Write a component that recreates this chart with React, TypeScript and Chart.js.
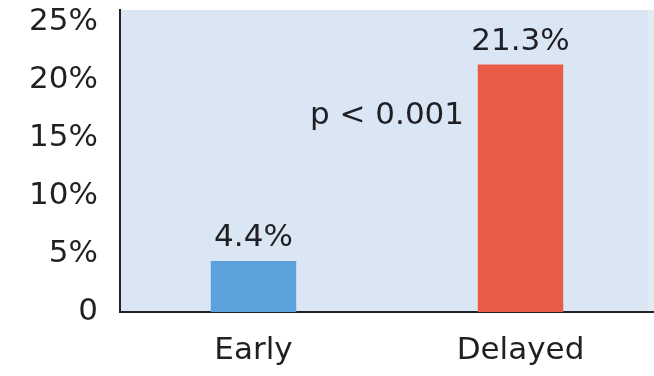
import React, { useEffect, useRef } from "react";
import { Chart, registerables } from "chart.js";

Chart.register(...registerables);

const categories = ["Early", "Delayed"];
const rates = [4.4, 21.3];
const barColors = ["#5ba2dc", "#ea5b45"];
const yTicks = [0, 5, 10, 15, 20, 25];
const pValueText = "p < 0.001";

const FONT = "'DejaVu Sans', sans-serif";
const TEXT = "#1f1f24";

const backdrop = {
  id: "backdrop",
  beforeDraw(chart: any) {
    const { ctx, chartArea } = chart;
    ctx.save();
    ctx.fillStyle = "#dae6f4";
    ctx.fillRect(chartArea.left, chartArea.top, chartArea.right - chartArea.left - 6, chartArea.bottom - chartArea.top);
    ctx.fillStyle = "#e4ebf3";
    ctx.fillRect(chartArea.right - 6, chartArea.top, 6, chartArea.bottom - chartArea.top);
    ctx.restore();
  },
};

const valueLabels = {
  id: "valueLabels",
  afterDatasetsDraw(chart: any) {
    const { ctx } = chart;
    const meta = chart.getDatasetMeta(0);
    ctx.save();
    ctx.font = `31px ${FONT}`;
    ctx.fillStyle = TEXT;
    ctx.textAlign = "center";
    ctx.textBaseline = "alphabetic";
    meta.data.forEach((bar: any, i: number) => {
      ctx.fillText(`${rates[i]}%`, bar.x, bar.y - 15);
    });
    // significance note between the two groups
    const xs = chart.scales.x;
    const ys = chart.scales.y;
    ctx.fillText(pValueText, xs.getPixelForValue(0.5), ys.getPixelForValue(16.2));
    ctx.restore();
  },
};

export default function App() {
  const ref = useRef<HTMLCanvasElement | null>(null);

  useEffect(() => {
    document.body.style.margin = "0";
    const canvas = ref.current;
    if (!canvas) return;
    const chart = new Chart(canvas, {
      type: "bar",
      data: {
        labels: categories,
        datasets: [
          {
            data: rates,
            backgroundColor: barColors,
            barPercentage: 0.32,
            categoryPercentage: 1,
          },
        ],
      },
      options: {
        animation: false,
        responsive: false,
        layout: { padding: { top: 10, right: 0, left: 0, bottom: 0 } },
        plugins: { legend: { display: false }, tooltip: { enabled: false } },
        scales: {
          x: {
            grid: { display: false, drawTicks: false },
            border: { display: true, color: "#222226", width: 2 },
            ticks: {
              color: TEXT,
              font: { family: FONT, size: 31 },
              padding: 20,
            },
            afterFit(scale: any) {
              scale.height = 64;
              scale.paddingLeft = 0;
              scale.paddingRight = 0;
            },
          },
          y: {
            min: 0,
            max: 26,
            afterBuildTicks(scale: any) {
              scale.ticks = yTicks.map((v) => ({ value: v }));
            },
            grid: { display: false, drawTicks: false },
            border: { display: true, color: "#222226", width: 2 },
            ticks: {
              color: TEXT,
              font: { family: FONT, size: 31 },
              padding: 22,
              callback: (v: any) => (v === 0 ? "0" : `${v}%`),
            },
            afterFit(scale: any) {
              scale.width = 120;
              scale.paddingTop = 0;
              scale.paddingBottom = 0;
            },
          },
        },
      },
      plugins: [backdrop, valueLabels],
    });
    return () => chart.destroy();
  }, []);

  return (
    <div style={{ width: 654, height: 376, background: "#fff" }}>
      <canvas ref={ref} width={654} height={376} style={{ display: "block" }} />
    </div>
  );
}
